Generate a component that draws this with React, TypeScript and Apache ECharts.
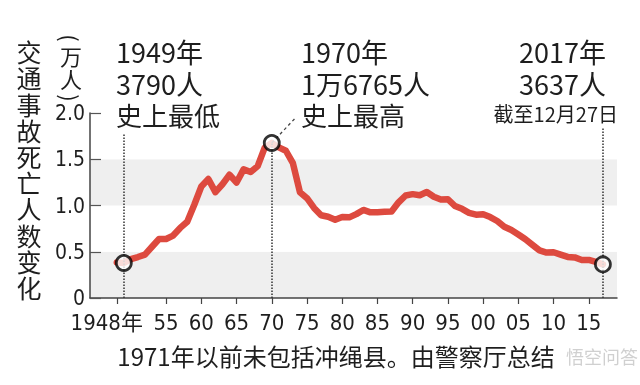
import React, { useEffect, useRef } from 'react';
import * as echarts from 'echarts';

// Data (persons killed in traffic accidents, Japan)
const years = [
  1948, 1949, 1950, 1951, 1952, 1953, 1954, 1955, 1956, 1957,
  1958, 1959, 1960, 1961, 1962, 1963, 1964, 1965, 1966, 1967,
  1968, 1969, 1970, 1971, 1972, 1973, 1974, 1975, 1976, 1977,
  1978, 1979, 1980, 1981, 1982, 1983, 1984, 1985, 1986, 1987,
  1988, 1989, 1990, 1991, 1992, 1993, 1994, 1995, 1996, 1997,
  1998, 1999, 2000, 2001, 2002, 2003, 2004, 2005, 2006, 2007,
  2008, 2009, 2010, 2011, 2012, 2013, 2014, 2015, 2016, 2017,
];
const deaths = [
  3848, 3790, 4202, 4429, 4696, 5544, 6374, 6379, 6751, 7575,
  8248, 10079, 12055, 12865, 11445, 12301, 13318, 12484, 13904, 13618,
  14256, 16257, 16765, 16278, 15918, 14574, 11432, 10792, 9734, 8945,
  8783, 8466, 8760, 8719, 9073, 9520, 9262, 9261, 9317, 9347,
  10344, 11086, 11227, 11109, 11452, 10942, 10649, 10679, 9942, 9640,
  9211, 9006, 9066, 8747, 8326, 7702, 7358, 6871, 6352, 5744,
  5155, 4914, 4948, 4691, 4438, 4388, 4113, 4117, 3904, 3637,
];
const tickYears = [1948, 1955, 1960, 1965, 1970, 1975, 1980, 1985, 1990, 1995, 2000, 2005, 2010, 2015];
const tickLabels = ['1948年', '55', '60', '65', '70', '75', '80', '85', '90', '95', '00', '05', '10', '15'];
const yValues = [0, 0.5, 1.0, 1.5, 2.0];
const yLabels = ['0', '0.5', '1.0', '1.5', '2.0'];
const highlightYears = [1949, 1970, 2017];

const CJK = '"Noto Sans CJK SC", "Noto Sans", sans-serif';
const NARROW = '"Liberation Sans Narrow", "DejaVu Sans Condensed", "Noto Sans CJK SC", sans-serif';
const INK = '#1e1e1e';

export default function App() {
  const ref = useRef<HTMLDivElement>(null);
  useEffect(() => {
    if (!ref.current) return;
    const chart = echarts.init(ref.current, undefined, { renderer: 'svg' });
    const values = deaths.map((d) => d / 10000);
    const lineData = years.map((y, i) => [y, values[i]]);
    const marks = highlightYears.map((y) => [y, values[years.indexOf(y)]]);
    const v1970 = values[years.indexOf(1970)];

    const text = (x: number, y: number, t: string, size: number, align = 'left', family = CJK, rotation = 0) => ({
      type: 'text',
      x,
      y,
      z: 100,
      rotation,
      style: { text: t, font: `${size}px ${family}`, fill: INK, textAlign: align, textVerticalAlign: 'middle' },
      silent: true,
    });

    chart.setOption({
      animation: false,
      grid: { left: 90, right: 23, top: 113, bottom: 87 },
      xAxis: {
        type: 'value',
        min: 1944.2,
        max: 2019,
        axisLine: { show: true, onZero: false, lineStyle: { color: '#444', width: 1.5 } },
        axisTick: { show: true, customValues: tickYears, length: 6, lineStyle: { color: '#444', width: 1.2 } },
        splitLine: { show: false },
        axisLabel: {
          customValues: tickYears,
          margin: 13,
          color: INK,
          fontSize: 22,
          fontFamily: NARROW,
          formatter: (v: number) => {
            const i = tickYears.indexOf(v);
            const s = i >= 0 ? tickLabels[i] : '';
            return i === 0 ? `{f|${s}}` : s;
          },
          rich: {
            f: { fontSize: 22, fontFamily: NARROW, color: INK, padding: [0, 20, 0, 0] },
          },
        },
      },
      yAxis: {
        type: 'value',
        min: 0,
        max: 2,
        interval: 0.5,
        axisLine: { show: true, lineStyle: { color: '#444', width: 1.5 } },
        axisTick: { show: true, inside: true, length: 11, lineStyle: { color: '#555', width: 1.2 } },
        splitLine: { show: false },
        splitArea: { show: true, areaStyle: { color: ['#efefef', '#ffffff'] } },
        axisLabel: {
          margin: 5,
          color: INK,
          fontSize: 21,
          fontFamily: NARROW,
          formatter: (v: number) => {
            const i = yValues.findIndex((x) => Math.abs(x - v) < 1e-6);
            return i >= 0 ? yLabels[i] : '';
          },
        },
      },
      series: [
        {
          type: 'line',
          data: [],
          silent: true,
          z: 1,
          markLine: {
            silent: true,
            symbol: ['none', 'none'],
            label: { show: false },
            lineStyle: { color: '#333', type: 'dotted', width: 1.5 },
            data: [
              [{ coord: [1949, 0] }, { coord: [1949, 1.78] }],
              [{ coord: [1970, 0] }, { coord: [1970, v1970] }],
              [{ coord: [2017, 0] }, { coord: [2017, 1.84] }],
              [
                { coord: [1970, v1970], lineStyle: { type: [3, 3], width: 1.3, color: '#444' } },
                { coord: [1973.4, 1.95] },
              ],
            ],
          },
        },
        {
          type: 'line',
          data: lineData,
          showSymbol: false,
          z: 3,
          lineStyle: { color: '#dd4a3f', width: 6.5, join: 'round', cap: 'round' },
          silent: true,
        },
        {
          type: 'scatter',
          data: marks,
          z: 5,
          symbol: 'circle',
          symbolSize: 15,
          itemStyle: { color: '#ffffff', borderColor: '#000000', borderWidth: 2.8 },
          silent: true,
        },
      ],
      graphic: [
        {
          type: 'text',
          x: 29,
          y: 38,
          z: 100,
          style: {
            text: '交\n通\n事\n故\n死\n亡\n人\n数\n变\n化',
            font: `25px ${CJK}`,
            lineHeight: 26.2,
            fill: INK,
            textAlign: 'center',
            textVerticalAlign: 'top',
          },
          silent: true,
        },
        text(71, 38, '(', 22, 'center', CJK, -Math.PI / 2),
        text(71, 55, '万', 22, 'center'),
        text(71, 78, '人', 22, 'center'),
        text(71, 98, ')', 22, 'center', CJK, -Math.PI / 2),
        text(116, 51, '1949年', 27),
        text(116, 83, '3790人', 27),
        text(116, 114, '史上最低', 26),
        text(301, 51, '1970年', 27),
        text(301, 83, '1万6765人', 27),
        text(301, 114, '史上最高', 26),
        text(519, 51, '2017年', 27),
        text(519, 83, '3637人', 27),
        text(618, 113, '截至12月27日', 20, 'right'),
        text(336, 355, '1971年以前未包括冲绳县。由警察厅总结', 24, 'center'),
        {
          type: 'text',
          x: 566,
          y: 356,
          z: 100,
          style: { text: '悟空问答', font: `18px ${CJK}`, fill: 'rgba(170,170,170,0.55)', textVerticalAlign: 'middle' },
          silent: true,
        },
      ],
    });
    return () => chart.dispose();
  }, []);
  return <div ref={ref} style={{ position: 'fixed', left: 0, top: 0, width: 640, height: 385 }} />;
}
